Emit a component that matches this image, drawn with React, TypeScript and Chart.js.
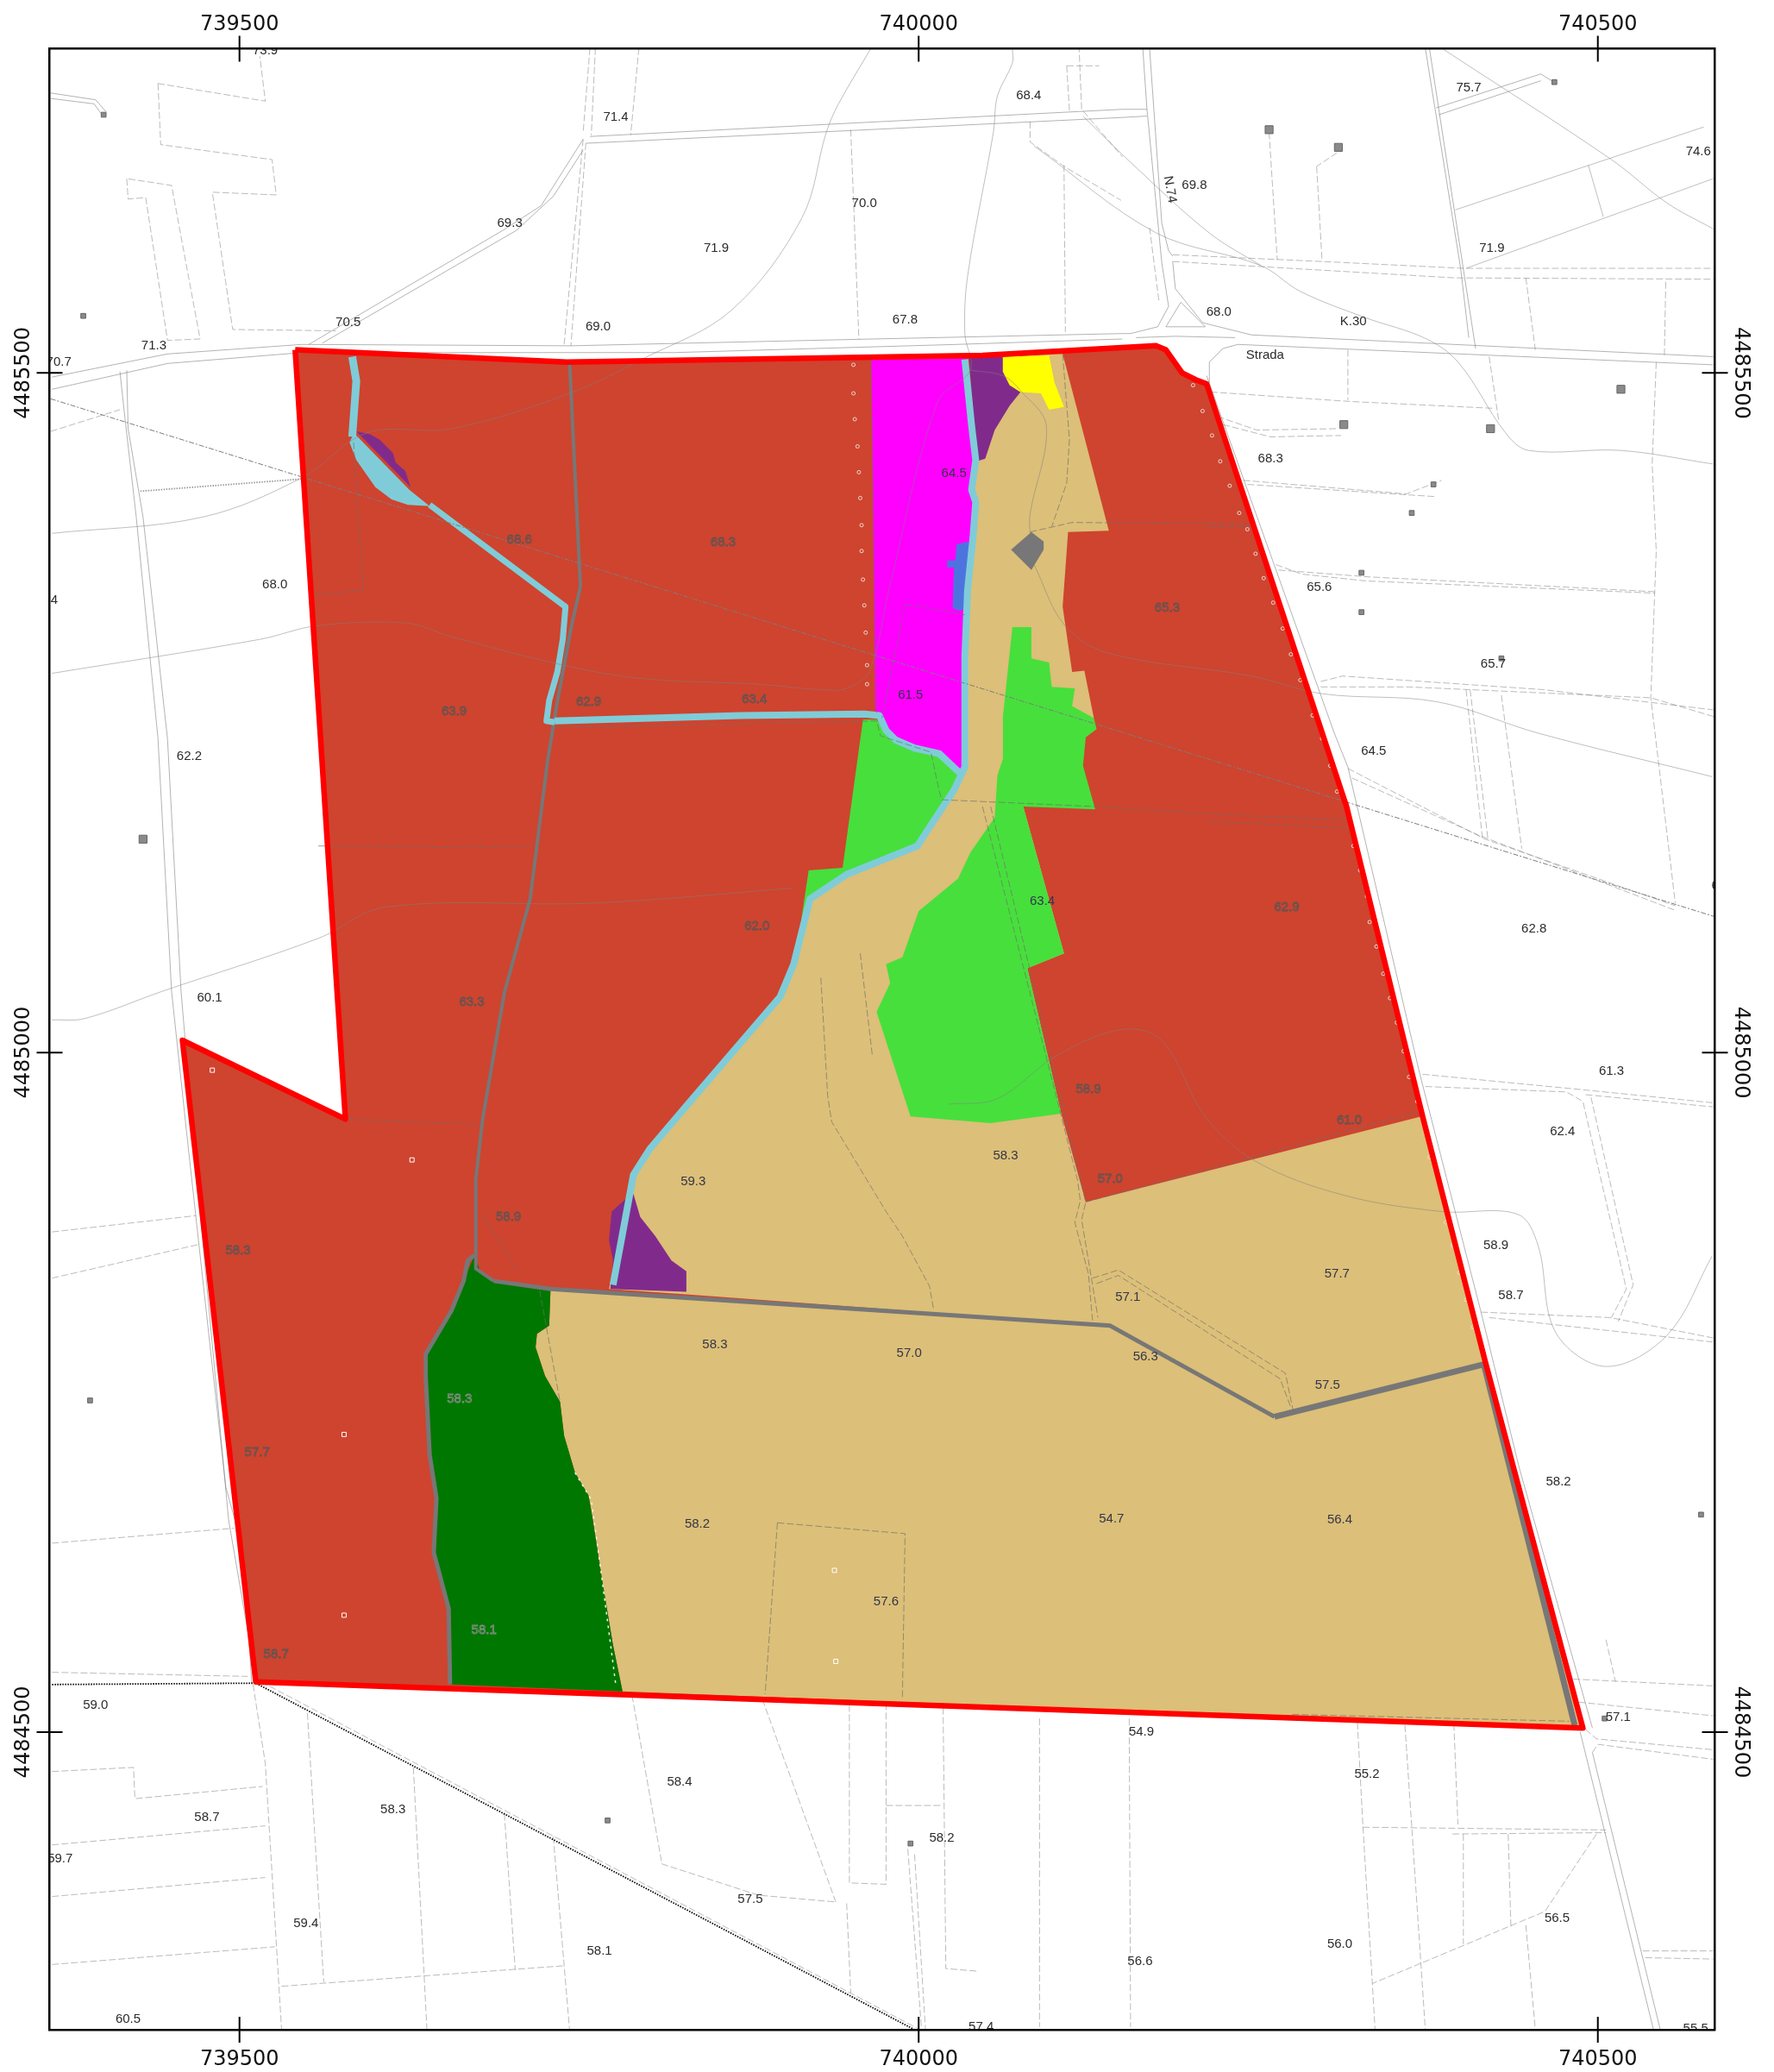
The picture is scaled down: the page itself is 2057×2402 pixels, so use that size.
import React, { useEffect, useRef } from "react";
import { Chart, registerables } from "chart.js";

Chart.register(...registerables);

// All coordinates: metres east of 739000 and north of 4484000 (UTM-style grid of the map).
type P = number[];
const ORIGIN_E = 739000;
const ORIGIN_N = 4484000;
const E_MIN = 739360.2;
const E_MAX = 740586.2;
const N_MIN = 4484281;
const N_MAX = 4485738.5;
const EAST_TICKS = [739500, 740000, 740500];
const NORTH_TICKS = [4484500, 4485000, 4485500];

const BOUNDARY: P[] = [[541,1517],[741,1508],[1047,1513],[1175,1520],[1182,1517],[1194,1500],[1204,1495],[1212,1492],[1315,1181],[1371,953],[1417,773],[1489,503],[512,537],[458,1009],[578,951],[541,1517]];
const TAN_SOUTH: P[] = [[729,826],[1141,799],[1262,732],[1418,771],[1489,503],[782,530],[775,564],[767,612],[760,657],[757,674],[747,691],[739,718],[736,743],[725,762],[718,783],[719,793],[728,799]];
const TAN_MID: P[] = [[1097,1514],[1106,1514],[1140,1384],[1110,1383],[1106,1328],[1113,1280],[1122,1281],[1129,1246],[1077,1181],[1107,1073],[1080,1062],[1105,955],[1123,890],[1370,953],[1418,773],[1262,732],[1141,799],[829,822],[772,826],[790,910],[802,929],[831,963],[898,1041],[908,1065],[920,1113],[947,1131],[999,1152],[1018,1181],[1026,1193],[1034,1210],[1034,1289],[1040,1379],[1042,1436],[1039,1510]];
const DARK_GREEN: P[] = [[655,535],[654,591],[643,632],[645,672],[640,704],[637,763],[637,778],[656,810],[665,832],[673,851],[678,837],[687,832],[729,826],[728,799],[719,793],[718,783],[725,762],[736,743],[739,718],[747,691],[757,674],[760,657],[767,612],[775,564],[782,530]];
const GREEN_EAST: P[] = [[1069,1313],[1083,1313],[1083,1290],[1096,1287],[1098,1269],[1115,1268],[1113,1255],[1129,1246],[1131,1238],[1123,1232],[1121,1211],[1130,1179],[1077,1181],[1107,1073],[1080,1062],[1105,955],[1053,948],[994,953],[969,1030],[979,1051],[976,1065],[988,1070],[1000,1104],[1029,1128],[1038,1147],[1056,1173],[1058,1204],[1062,1216],[1062,1247]];
const GREEN_WEST: P[] = [[959,1245],[969,1245],[981,1229],[1005,1224],[1030,1209],[1026,1193],[1018,1181],[999,1152],[947,1131],[920,1113],[911,1080],[919,1134],[944,1136]];
const MAGENTA_AREA: P[] = [[965,1512],[1035,1512],[1042,1436],[1040,1379],[1034,1289],[1032,1207],[1015,1221],[997,1226],[983,1232],[973,1245],[968,1252]];
const PURPLE_TOP: P[] = [[1037,1512],[1062,1512],[1062,1501],[1067,1491],[1075,1486],[1067,1476],[1056,1458],[1049,1437],[1043,1435]];
const YELLOW_AREA: P[] = [[1062,1512],[1096,1513],[1100,1493],[1107,1475],[1096,1473],[1090,1485],[1075,1486],[1067,1491],[1062,1501]];
const PURPLE_NW: P[] = [[586,1457],[596,1455],[603,1451],[613,1441],[615,1434],[622,1428],[626,1416]];
const POND_NW: P[] = [[583,1453],[581,1449],[586,1436],[600,1416],[612,1407],[624,1403],[640,1402],[625,1414],[586,1454]];
const PURPLE_SOUTH: P[] = [[790,896],[795,879],[806,865],[818,847],[829,839],[829,824],[773,826],[775,847],[772,862],[774,883],[784,892]];
const BLUE_BUILDING: P[] = [[1028,1374],[1037,1376],[1037,1364],[1035,1327],[1030,1325],[1025,1327],[1026,1357],[1021,1357],[1021,1362],[1027,1362]];
const GREY_BUILDING: P[] = [[1068,1370],[1083,1383],[1092,1376],[1092,1370],[1083,1355]];

const CREEK_MAIN: P[] = [[1034,1510],[1039,1461],[1042,1436],[1039,1414],[1042,1405],[1040,1379],[1036,1340],[1034,1291],[1034,1210],[1026,1193],[1018,1181],[999,1152],[947,1131],[920,1113],[908,1065],[898,1041],[831,963],[802,929],[790,910],[775,829]];
const CREEK_CROSS: P[] = [[732,1244],[869,1248],[960,1249],[971,1248],[976,1237],[983,1230],[997,1224],[1015,1220],[1031,1205]];
const CREEK_NW_TOP: P[] = [[583,1512],[586,1494],[583,1453]];
const CREEK_NW_LOW: P[] = [[640,1403],[740,1328],[738,1304],[734,1280],[728,1259],[726,1244],[732,1243]];

const ROAD_NORTH: P[] = [[743,1508],[751,1343],[744,1312],[734,1258],[727,1216],[714,1113],[695,1044],[679,951],[674,907],[674,841],[687,832]];
const ROAD_WEST: P[] = [[673,851],[668,847],[665,832],[656,810],[637,778],[637,763],[640,704],[645,672],[643,632],[654,591],[655,535]];
const ROAD_MAIN: P[] = [[687,832],[729,826],[1141,799],[1262,732]];
const ROAD_EAST: P[] = [[1262,732],[1418,771]];
const ROAD_EDGE: P[] = [[1416,771],[1483,505]];

const SOLID_LINES: P[][] = [
  [[362,1497],[447,1514],[546,1521],[744,1520],[966,1525],[1150,1529],[1156,1529],[1176,1534],[1184,1549],[1179,1581],[1168,1695],[1165,1739]],
  [[362,1488],[447,1507],[546,1515],[820,1515],[1028,1521],[1150,1525]],
  [[1170,1739],[1179,1610],[1184,1590],[1187,1586]],
  [[1187,1582],[1189,1562],[1209,1537],[1245,1528],[1585,1512]],
  [[1214,1493],[1214,1508],[1224,1518],[1235,1521],[1585,1506]],
  [[1182,1534],[1193,1552],[1211,1534],[1182,1534]],
  [[1160,1526],[1189,1527],[1233,1526]],
  [[758,1674],[1150,1694],[1168,1694]],
  [[755,1669],[1150,1688],[1168,1689]],
  [[551,1521],[694,1605],[722,1623],[753,1672]],
  [[561,1522],[704,1605],[731,1630],[753,1664]],
  [[1373,1739],[1399,1577],[1405,1526]],
  [[1376,1739],[1410,1518]],
  [[1381,1695],[1458,1720],[1466,1715]],
  [[1383,1690],[1458,1715]],
  [[1212,1498],[1306,1235],[1316,1210],[1369,984],[1414,809],[1442,695],[1496,503]],
  [[1487,500],[1541,281]],
  [[1496,485],[1546,281]],
  [[361,1706],[394,1701],[402,1692]],
  [[361,1702],[393,1698],[398,1691]],
  [[412,1501],[415,1473],[424,1394],[440,1231],[450,1045]],
  [[417,1502],[418,1459],[429,1394],[447,1231],[457,1045]],
  [[450,1045],[461,942],[480,769],[490,680],[503,633],[509,536]],
  [[457,1045],[467,925],[492,656],[512,540]],
];

const CONTOUR_LINES: P[][] = [
  [[965,1739],[941,1698],[932,1677],[914,1614],[862,1546],[796,1510],[743,1485],[656,1459],[594,1456],[546,1423],[473,1394],[362,1382]],
  [[1069,1739],[1069,1728],[1058,1704],[1055,1677],[1036,1571],[1034,1529],[1038,1502],[1014,1479],[978,1340],[964,1281],[947,1268],[928,1267],[882,1271],[798,1275],[743,1284],[656,1306],[623,1316],[557,1314],[515,1304],[362,1279]],
  [[1038,1502],[1062,1498],[1075,1487],[1094,1461],[1082,1396],[1082,1381]],
  [[1085,1359],[1107,1315],[1139,1294],[1245,1277],[1297,1264],[1382,1258],[1456,1235],[1584,1203]],
  [[1022,962],[1058,966],[1102,998],[1150,1017],[1179,1009],[1211,953],[1248,920],[1313,895],[1385,883],[1441,881],[1456,858],[1469,794],[1506,769],[1551,792],[1584,850]],
  [[362,1024],[386,1025],[443,1045],[558,1084],[607,1107],[762,1110],[908,1121]],
  [[1085,1667],[1175,1603],[1252,1579],[1281,1560],[1328,1541],[1374,1525],[1398,1507],[1432,1456],[1449,1443],[1517,1443],[1585,1433]],
  [[1121,1689],[1156,1655],[1214,1603],[1252,1579]],
  [[1385,1739],[1510,1657],[1551,1625],[1585,1606]],
  [[1395,1620],[1578,1681]],
  [[1403,1577],[1585,1643]],
  [[1493,1653],[1504,1615]],
];

const POWER_LINE: P[] = [[361,1481],[1586,1100]];
const RAILWAY_DOTTED: P[][] = [
  [[362,535],[512,536],[997,281]],
  [[427,1413],[546,1422]],
];
const RAILWAY_EDGE: P[] = [[516,537],[1001,281]];
const TICKED_EDGE: P[] = [[747,691],[759,671],[767,612],[777,535]];

const DASHED_LINES: P[][] = [
  [[755,1669],[744,1520]],[[753,1672],[739,1521]],[[758,1739],[753,1677]],[[762,1739],[759,1675]],[[794,1739],[788,1675]],
  [[1187,1587],[1297,1582],[1401,1577],[1585,1577]],[[1187,1582],[1394,1570],[1585,1569]],
  [[1170,1607],[1177,1552]],[[1107,1653],[1108,1530]],[[1082,1685],[1082,1670],[1107,1652],[1149,1627]],
  [[950,1679],[956,1525]],[[1109,1726],[1133,1726]],[[1109,1726],[1111,1693]],[[1118,1741],[1120,1694],[1150,1659]],
  [[1258,1677],[1264,1583]],[[1293,1652],[1297,1582]],[[1308,1662],[1293,1652]],[[1420,1512],[1427,1465]],
  [[1447,1570],[1454,1517]],[[1550,1567],[1549,1513]],[[1316,1517],[1316,1480]],
  [[1543,1508],[1540,1433],[1543,1369],[1539,1261],[1557,1110]],
  [[1215,1486],[1318,1479],[1423,1474]],[[1220,1468],[1249,1458],[1308,1459]],[[1224,1462],[1259,1453],[1311,1454]],
  [[1239,1421],[1359,1411],[1385,1421]],[[1242,1418],[1381,1409]],
  [[1263,1359],[1282,1352],[1329,1347],[1542,1338]],[[1265,1355],[1331,1350],[1543,1339]],
  [[1296,1273],[1312,1277],[1460,1267],[1586,1252]],[[1296,1269],[1361,1269],[1539,1261],[1586,1247]],
  [[1403,1267],[1415,1158]],[[1406,1267],[1419,1158]],[[1429,1263],[1444,1150]],
  [[1316,1209],[1417,1157],[1557,1108]],[[1319,1202],[1412,1160],[1556,1105]],
  [[1371,984],[1485,973],[1585,963]],[[1373,975],[1477,971],[1489,964],[1521,826],[1510,805]],[[1491,969],[1585,960]],[[1495,967],[1526,829],[1515,802]],
  [[1414,809],[1509,805],[1585,790]],[[1420,805],[1585,787]],
  [[1482,539],[1585,534]],[[1486,522],[1585,512]],[[1506,568],[1513,537]],
  [[1491,502],[1499,495],[1585,487]],[[1496,485],[1500,491],[1585,480]],
  [[1533,339],[1585,339]],[[1535,334],[1585,333]],
  [[1323,507],[1327,432],[1334,315],[1336,281]],[[1358,505],[1373,281]],[[1394,506],[1397,432]],
  [[1327,430],[1506,428]],[[1393,425],[1506,426]],[[1401,425],[1401,344]],[[1434,425],[1436,357]],
  [[1499,425],[1461,368],[1334,315]],[[1447,358],[1454,281]],
  [[510,535],[519,477],[531,281]],[[550,514],[562,316]],[[628,474],[638,281]],[[695,440],[703,325]],[[731,423],[743,281]],
  [[789,527],[811,403],[882,380],[939,375]],[[885,524],[939,375]],
  [[949,520],[949,389],[976,388],[976,520]],[[976,446],[1018,446]],[[1018,518],[1020,326],[1044,324]],[[947,374],[950,308]],
  [[992,414],[1002,283]],[[997,410],[1005,281]],[[1089,510],[1089,283]],[[1155,510],[1156,283]],
  [[362,471],[422,474],[423,451],[517,460]],[[362,417],[519,431]],[[362,379],[519,393]],[[362,329],[526,342]],[[531,313],[738,328]],
  [[361,1457],[412,1473]],[[362,868],[468,880]],[[362,834],[471,859]],[[362,639],[496,650]],[[362,544],[506,541]],
  [[440,1713],[519,1700],[515,1733]],[[440,1713],[442,1668],[524,1657],[527,1631],[480,1633],[495,1532],[571,1531]],
  [[417,1643],[418,1628],[431,1629],[447,1524],[471,1525],[450,1638],[417,1643]],
];

const INNER_DASHED: P[][] = [
  [[965,1510],[969,1250]],
  [[734,1239],[928,1243],[969,1244],[972,1233],[1009,1221],[1015,1193],[1017,1186],[1130,1181],[1244,1174],[1316,1171]],
  [[1213,1170],[1319,1165]],
  [[1082,1383],[1113,1390],[1244,1389]],[[1213,1387],[1245,1387]],
  [[1106,1514],[1111,1451],[1109,1419],[1098,1387]],
  [[584,1449],[591,1340],[556,1337]],
  [[990,1330],[1034,1322]],[[990,1330],[973,1246]],
  [[1047,1181],[1117,906],[1119,891],[1115,875],[1125,837],[1128,803]],
  [[1053,1181],[1123,890],[1120,877],[1132,805]],
  [[1128,834],[1147,840],[1270,764],[1276,735]],[[1131,830],[1147,836],[1266,760],[1274,739]],
  [[928,1055],[933,968],[936,949],[976,883],[988,865],[1008,828],[1011,811]],
  [[957,1073],[966,997]],
  [[896,654],[990,646],[988,524]],[[896,654],[887,528]],
  [[1275,513],[1479,508]],[[721,825],[736,743]],[[679,881],[705,839]],[[578,951],[677,947]],[[558,1152],[714,1151]],
  [[1123,890],[1370,957]],
];

const POLES_WEST: P[] = [[952,1506],[952,1485],[953,1466],[955,1446],[956,1427],[957,1408],[958,1388],[958,1369],[959,1348],[960,1329],[961,1309],[962,1285],[962,1271]];
const POLES_EAST: P[] = [[1202,1491],[1209,1472],[1216,1454],[1222,1435],[1229,1417],[1236,1397],[1242,1385],[1248,1367],[1254,1349],[1261,1331],[1268,1312],[1274,1293],[1281,1274],[1290,1248],[1297,1231],[1303,1211],[1308,1192],[1320,1152],[1325,1134],[1330,1115],[1332,1096],[1337,1078],[1342,1058],[1347,1040],[1352,1022],[1357,1001],[1361,982],[1367,964],[1376,923],[1388,875],[1393,858],[1398,838],[1403,818],[1408,798]];
const WELLS: P[] = [[480,987],[627,921],[577,719],[577,586],[938,619],[939,552]];
const HOUSES_SMALL: P[] = [[400,1690],[385,1542],[390,744],[1468,1714],[1363,1397],[1379,1418],[1326,1353],[1326,1324],[1429,1290],[1505,510],[771,435],[1576,660],[994,418]];
const HOUSES_LARGE: P[] = [[429,1157],[1258,1679],[1309,1666],[1517,1488],[1313,1462],[1421,1459]];

const OUTER_TEXT: string[] = ["73.9","68.4","71.4","75.7","74.6","69.8","70.0","69.3","71.9","71.9","68.0","K.30","67.8","69.0","70.5","71.3","Strada","70.7","68.3","68.0","65.6","65.7","64.5","62.2","62.8","60.1","61.3","62.4","58.9","58.7","58.2","57.1","59.0","54.9","55.2","58.4","58.3","58.7","58.2","59.7","57.5","59.4","56.5","58.1","56.6","56.0","60.5","57.4","55.5","66.4","72.0","62.0"];
const OUTER_POS: P[] = [[519,1737],[1081,1704],[777,1688],[1405,1710],[1574,1663],[1203,1638],[960,1625],[699,1610],[851,1592],[1422,1592],[1221,1545],[1320,1538],[990,1539],[764,1534],[580,1537],[437,1520],[1255,1513],[367,1508],[1259,1437],[526,1344],[1295,1342],[1423,1286],[1335,1222],[463,1218],[1453,1091],[478,1040],[1510,986],[1474,942],[1425,858],[1436,821],[1471,684],[1515,511],[394,520],[1164,500],[1330,469],[824,463],[613,443],[476,437],[1017,422],[368,407],[876,377],[549,359],[1470,363],[765,339],[1163,331],[1310,344],[418,289],[1046,283],[1572,282],[357,1333],[1594,1483],[1593,1123]];
const SOLID_TEXT: string[] = ["64.5","61.5","63.4","59.3","58.3","57.7","57.1","58.3","57.0","56.3","57.5","58.2","54.7","56.4","57.6"];
const SOLID_POS: P[] = [[1026,1426],[994,1263],[1091,1111],[834,905],[1064,924],[1308,837],[1154,820],[850,785],[993,779],[1167,776],[1301,755],[837,653],[1142,657],[1310,656],[976,596]];
const HOLLOW_TEXT: string[] = ["68.6","68.3","65.3","63.9","62.9","63.4","62.0","62.9","63.3","58.9","57.0","61.0","58.9","58.3","57.7","58.7"];
const HOLLOW_POS: P[] = [[706,1377],[856,1375],[1183,1327],[658,1251],[757,1258],[879,1260],[881,1093],[1271,1107],[671,1037],[1125,973],[1141,907],[1317,950],[698,879],[499,854],[513,706],[527,557]];
const FOREST_TEXT: string[] = ["58.3","58.1"];
const FOREST_POS: P[] = [[662,745],[680,575]];
const ROAD_NAME = "N.74";
const ROAD_NAME_POS: P = [1185, 1635];

const xy = (p: P) => ({ x: ORIGIN_E + p[0], y: ORIGIN_N + p[1] });

const area = (pts: P[], color: string) => ({
  data: pts.map(xy), showLine: true, fill: "shape" as const, backgroundColor: color, borderColor: color,
  borderWidth: 0, pointRadius: 0, tension: 0,
});
const stroke = (pts: P[], color: string, width: number, dash: number[] = [], tension = 0) => ({
  data: pts.map(xy), showLine: true, fill: false, borderColor: color, backgroundColor: color,
  borderWidth: width, borderDash: dash, pointRadius: 0, tension, borderJoinStyle: "round" as const, borderCapStyle: "butt" as const,
});
const marks = (pts: P[], style: string, r: number, bg: string, line: string, lw: number) => ({
  data: pts.map(xy), showLine: false, pointStyle: style, pointRadius: r, backgroundColor: bg, borderColor: line, borderWidth: lw,
  pointBackgroundColor: bg, pointBorderColor: line, pointBorderWidth: lw,
});

const CYAN = "#7FCCD8";
const GREY = "#777777";
const THIN = "rgba(128,128,128,0.6)";
const THIN_SOFT = "rgba(128,128,128,0.5)";

// Listed bottom layer first.
const layers: any[] = [
  area(BOUNDARY, "#CE442F"),
  area(TAN_MID, "#DCBF78"),
  area(TAN_SOUTH, "#DCBF78"),
  area(DARK_GREEN, "#007700"),
  area(GREEN_EAST, "#47DF3C"),
  area(GREEN_WEST, "#47DF3C"),
  area(MAGENTA_AREA, "#FF00FF"),
  area(PURPLE_TOP, "#802B8C"),
  area(YELLOW_AREA, "#FFFF00"),
  area(PURPLE_NW, "#802B8C"),
  area(PURPLE_SOUTH, "#802B8C"),
  area(GREY_BUILDING, GREY),
  area(BLUE_BUILDING, "#4D74DE"),
  stroke(ROAD_NORTH, GREY, 4),
  stroke(ROAD_WEST, GREY, 5),
  stroke(ROAD_MAIN, GREY, 5),
  stroke(ROAD_EAST, GREY, 7),
  stroke(ROAD_EDGE, GREY, 7),
  area(POND_NW, CYAN),
  stroke(CREEK_NW_TOP, CYAN, 9),
  stroke(CREEK_NW_LOW, CYAN, 7),
  stroke(CREEK_CROSS, CYAN, 8),
  stroke(CREEK_MAIN, CYAN, 8),
  ...SOLID_LINES.map((l) => stroke(l, THIN, 1)),
  ...CONTOUR_LINES.map((l) => stroke(l, THIN_SOFT, 1, [], 0.35)),
  ...DASHED_LINES.map((l) => stroke(l, THIN, 0.9, [8, 3])),
  ...INNER_DASHED.map((l) => stroke(l, "rgba(110,110,110,0.75)", 0.9, [8, 3])),
  stroke(POWER_LINE, "#7d7d7d", 1, [6, 2, 2, 2]),
  ...RAILWAY_DOTTED.map((l, i) => stroke(l, i === 0 ? "#000000" : "#9a9a9a", 1.8, [1.5, 1.5])),
  stroke(RAILWAY_EDGE, THIN, 0.9, [8, 3]),
  stroke(TICKED_EDGE, "#f2f2f2", 1.5, [3, 5]),
  marks(POLES_WEST, "circle", 2, "rgba(0,0,0,0)", "#f0d9d0", 1),
  marks(POLES_EAST, "circle", 2, "rgba(0,0,0,0)", "#f0d9d0", 1),
  marks(WELLS, "rect", 3.5, "rgba(0,0,0,0)", "#ffffff", 1),
  marks(HOUSES_SMALL, "rect", 4, "#8a8a8a", "#666666", 1),
  marks(HOUSES_LARGE, "rect", 6.5, "#8a8a8a", "#666666", 1),
  stroke(BOUNDARY, "#FF0000", 6.5),
].reverse();

const axisBase = (min: number, max: number, values: number[]) => ({
  type: "linear" as const,
  min,
  max,
  grid: { display: false },
  border: { display: true, color: "#000000", width: 2.5, z: 2 },
  afterBuildTicks: (s: any) => { s.ticks = values.map((value) => ({ value })); },
});
const tickFont = { family: "'DejaVu Sans'", size: 24 };

const mapOverlay = {
  id: "mapOverlay",
  afterDatasetsDraw(chart: any) {
    const { ctx, chartArea: a, scales } = chart;
    const px = (p: P) => [scales.x.getPixelForValue(ORIGIN_E + p[0]), scales.y.getPixelForValue(ORIGIN_N + p[1])];
    ctx.save();
    ctx.beginPath();
    ctx.rect(a.left, a.top, a.right - a.left, a.bottom - a.top);
    ctx.clip();
    ctx.font = "15px 'Liberation Sans'";
    ctx.textAlign = "center";
    ctx.textBaseline = "middle";
    ctx.fillStyle = "#2b2b2b";
    OUTER_TEXT.forEach((t, i) => { const [x, y] = px(OUTER_POS[i]); ctx.fillText(t, x, y); });
    ctx.fillStyle = "#33364a";
    SOLID_TEXT.forEach((t, i) => { const [x, y] = px(SOLID_POS[i]); ctx.fillText(t, x, y); });
    ctx.strokeStyle = "#555555";
    ctx.lineWidth = 0.8;
    HOLLOW_TEXT.forEach((t, i) => { const [x, y] = px(HOLLOW_POS[i]); ctx.strokeText(t, x, y); });
    ctx.strokeStyle = "#8f8f8f";
    FOREST_TEXT.forEach((t, i) => { const [x, y] = px(FOREST_POS[i]); ctx.strokeText(t, x, y); });
    const [nx, ny] = px(ROAD_NAME_POS);
    ctx.translate(nx, ny);
    ctx.rotate((80 * Math.PI) / 180);
    ctx.fillStyle = "#2b2b2b";
    ctx.fillText(ROAD_NAME, 0, 0);
    ctx.restore();
  },
  afterDraw(chart: any) {
    const { ctx, chartArea: a, scales } = chart;
    ctx.save();
    ctx.strokeStyle = "#000000";
    ctx.lineWidth = 2;
    const L = 15;
    ctx.beginPath();
    EAST_TICKS.forEach((v) => {
      const x = scales.x.getPixelForValue(v);
      ctx.moveTo(x, a.top - L); ctx.lineTo(x, a.top + L);
      ctx.moveTo(x, a.bottom - L); ctx.lineTo(x, a.bottom + L);
    });
    NORTH_TICKS.forEach((v) => {
      const y = scales.y.getPixelForValue(v);
      ctx.moveTo(a.left - L, y); ctx.lineTo(a.left + L, y);
      ctx.moveTo(a.right - L, y); ctx.lineTo(a.right + L, y);
    });
    ctx.stroke();
    ctx.restore();
  },
};

export default function App() {
  const ref = useRef<HTMLCanvasElement>(null);
  useEffect(() => {
    const chart = new Chart(ref.current as HTMLCanvasElement, {
      type: "scatter",
      data: { datasets: layers },
      options: {
        responsive: false,
        maintainAspectRatio: false,
        animation: false,
        devicePixelRatio: 1,
        layout: { padding: 0 },
        plugins: { legend: { display: false }, tooltip: { enabled: false } },
        scales: {
          x: { ...axisBase(E_MIN, E_MAX, EAST_TICKS), position: "bottom",
            ticks: { font: tickFont, color: "#111", padding: 12, autoSkip: false, maxRotation: 0, minRotation: 0, callback: (v: any) => String(v) },
            afterFit: (s: any) => { s.height = 49; } },
          x2: { ...axisBase(E_MIN, E_MAX, EAST_TICKS), position: "top",
            ticks: { font: tickFont, color: "#111", padding: 5, autoSkip: false, maxRotation: 0, minRotation: 0, callback: (v: any) => String(v) },
            afterFit: (s: any) => { s.height = 56.6; } },
          y: { ...axisBase(N_MIN, N_MAX, NORTH_TICKS), position: "left",
            ticks: { font: tickFont, color: "#111", padding: -31.5, autoSkip: false, crossAlign: "center", minRotation: 90, maxRotation: 90, callback: (v: any) => String(v) },
            afterFit: (s: any) => { s.width = 57.5; } },
          y2: { ...axisBase(N_MIN, N_MAX, NORTH_TICKS), position: "right",
            ticks: { font: tickFont, color: "#111", padding: -31.5, autoSkip: false, crossAlign: "center", minRotation: -90, maxRotation: -90, callback: (v: any) => String(v) },
            afterFit: (s: any) => { s.width = 68.5; } },
        } as any,
      } as any,
      plugins: [mapOverlay],
    });
    return () => chart.destroy();
  }, []);
  return (
    <canvas
      ref={ref}
      width={2057}
      height={2402}
      style={{ position: "absolute", left: 0, top: 0, width: 2057, height: 2402, display: "block", background: "#ffffff" }}
    />
  );
}
